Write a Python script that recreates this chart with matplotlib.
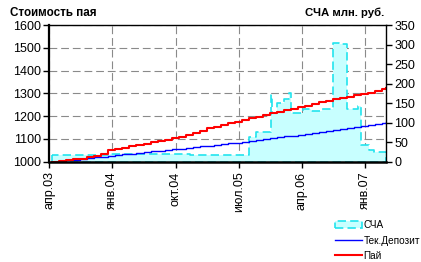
import matplotlib
matplotlib.use("Agg")
import matplotlib.pyplot as plt
from matplotlib.patches import Patch
from matplotlib.lines import Line2D
import numpy as np

plt.rcParams['font.family'] = ['Liberation Sans', 'DejaVu Sans']

# ---- data ----
tick_pos = [0, 9, 18, 27, 36, 45]
tick_labels = ['апр.03', 'янв.04', 'окт.04', 'июл.05', 'апр.06', 'янв.07']

# months since Apr 2003 (monthly points) for unit price & deposit
month_x = [0.43 + k for k in range(48)] + [48.0]
pai = [1000, 1003, 1006, 1010, 1014, 1019, 1025, 1033, 1052, 1056, 1062, 1067,
       1072, 1077, 1085, 1089, 1096, 1103, 1110, 1118, 1128, 1137, 1146, 1153,
       1160, 1168, 1176, 1184, 1190, 1197, 1204, 1212, 1220, 1227, 1233, 1240,
       1247, 1255, 1263, 1268, 1274, 1279, 1285, 1292, 1298, 1304, 1311, 1318, 1323]
deposit = [1000, 1003, 1006, 1009, 1012, 1016, 1019, 1022, 1025, 1028, 1032, 1035,
           1038, 1041, 1045, 1048, 1051, 1054, 1058, 1061, 1064, 1067, 1071, 1074,
           1077, 1081, 1084, 1088, 1092, 1095, 1099, 1103, 1107, 1111, 1115, 1119,
           1123, 1127, 1131, 1135, 1139, 1143, 1147, 1151, 1155, 1160, 1164, 1168, 1175]

# net asset value (СЧА), mln rub, step series
sca_x = [0.43, 8.63, 20.0, 28.48, 29.4, 31.54, 31.68, 32.4, 33.5, 34.2, 34.45,
         36.1, 37.3, 38.9, 40.4, 41.35, 42.4, 43.95, 44.44, 45.6, 46.3, 48.0]
sca_v = [17, 21, 18, 63, 77, 171, 124, 151, 162, 175, 124,
         134, 131, 134, 304, 302, 135, 142, 43, 30, 26, 26]

# ---- figure ----
W, H = 421, 262
fig = plt.figure(figsize=(W / 100, H / 100), dpi=100)
rect = [49.3 / W, 1 - 161.7 / H, (386 - 49.3) / W, (161.7 - 25.2) / H]

ax_bg = fig.add_axes(rect)
ax_sca = ax_bg.twinx()
ax_ln = ax_bg.twinx()

ax_bg.set_zorder(1)
ax_sca.set_zorder(2)
ax_ln.set_zorder(3)
ax_sca.patch.set_visible(False)
ax_ln.patch.set_visible(False)

ax_bg.set_xlim(0, 48)
ax_bg.set_ylim(1000, 1600)
ax_ln.set_ylim(1000, 1600)
ax_sca.set_ylim(0, 350)

# grid on background axes
ax_bg.set_xticks(tick_pos)
ax_bg.set_xticklabels(tick_labels, rotation=90, fontsize=9)
ax_bg.set_yticks(np.arange(1000, 1601, 100))
ax_bg.tick_params(axis='y', labelsize=9, length=4, width=1, direction='out', pad=2)
ax_bg.tick_params(axis='x', length=4, width=1, direction='out', pad=3)
ax_bg.grid(True, color='#8a8a8a', linestyle=(0, (7, 3.5)), linewidth=0.8)

# СЧА fill
ax_sca.fill_between(sca_x, 0, sca_v, step='post', facecolor='#c8ffff',
                    edgecolor='#22e4ee', linestyle=(0, (5, 2.5)), linewidth=1.2)
ax_sca.set_yticks(np.arange(0, 351, 50))
ax_sca.tick_params(axis='y', labelsize=9, length=4, width=1, direction='out', pad=2)

# lines
ax_ln.step(month_x, deposit, where='post', color='#0000ff', linewidth=1.0)
ax_ln.step(month_x, pai, where='post', color='#ff0000', linewidth=1.5)
ax_ln.set_yticks([])

for a in (ax_bg, ax_sca, ax_ln):
    for s in a.spines.values():
        s.set_visible(False)
ax_ln.spines['left'].set_visible(True)
ax_ln.spines['left'].set_linewidth(1.6)
ax_ln.spines['bottom'].set_visible(True)
ax_ln.spines['bottom'].set_linewidth(1.8)
ax_ln.spines['top'].set_visible(True)
ax_ln.spines['top'].set_linewidth(1.0)
ax_ln.spines['right'].set_visible(True)
ax_ln.spines['right'].set_linewidth(1.0)
for s in ax_ln.spines.values():
    s.set_color('black')
ax_ln.tick_params(axis='x', which='both', bottom=False, labelbottom=False)
ax_sca.tick_params(axis='x', which='both', bottom=False, labelbottom=False)

# titles
fig.text(10 / W, 1 - 13 / H, 'Стоимость пая', fontsize=8.4, fontweight='bold',
         ha='left', va='center')
fig.text(384 / W, 1 - 13 / H, 'СЧА млн. руб.', fontsize=8.2, fontweight='bold',
         ha='right', va='center')

# legend
handles = [
    Patch(facecolor='#c8ffff', edgecolor='#22e4ee', linestyle=(0, (5, 2.5)), linewidth=1.2),
    Line2D([], [], color='#0000ff', linewidth=1.0),
    Line2D([], [], color='#ff0000', linewidth=1.5),
]
labels = ['СЧА', 'Тек.Депозит', 'Пай']
fig.legend(handles, labels, loc='upper left', bbox_to_anchor=(335 / W, 1 - 220 / H),
           frameon=False, fontsize=7.2, handlelength=2.7, handleheight=0.8,
           handletextpad=0.15, labelspacing=0.55, borderpad=0, borderaxespad=0)

fig.savefig('out.png', dpi=100)
